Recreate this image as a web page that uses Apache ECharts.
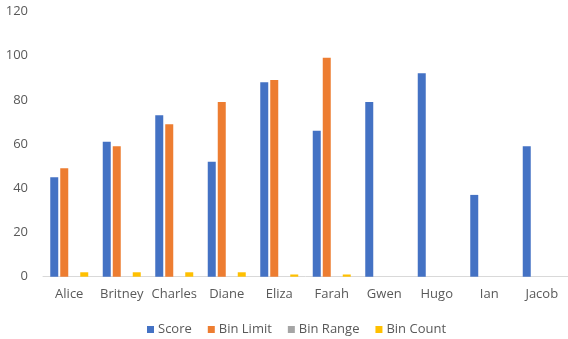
<!DOCTYPE html>
<html>
<head>
<meta charset="utf-8">
<style>
  html, body { margin: 0; padding: 0; background: #ffffff; }
  #chart { width: 568px; height: 339px; }
</style>
<script src="https://cdn.jsdelivr.net/npm/echarts@6/dist/echarts.min.js"></script>
</head>
<body>
<div id="chart"></div>
<script>
// Student scores with histogram bins
const names = ['Alice', 'Britney', 'Charles', 'Diane', 'Eliza', 'Farah', 'Gwen', 'Hugo', 'Ian', 'Jacob'];
const score = [45, 61, 73, 52, 88, 66, 79, 92, 37, 59];
const binLimit = [49, 59, 69, 79, 89, 99, null, null, null, null];
const binRange = [0, 0, 0, 0, 0, 0, null, null, null, null];
const binCount = [2, 2, 2, 2, 1, 1, null, null, null, null];
const yTicks = { min: 0, max: 120, interval: 20 };

const textColor = '#595959';
const font = 'Open Sans';

const chart = echarts.init(document.getElementById('chart'), null, { renderer: 'canvas' });

function barSeries(name, data, color) {
  return {
    name: name,
    type: 'bar',
    data: data,
    barWidth: 8,
    barGap: '25%',
    itemStyle: { color: color },
    emphasis: { disabled: true }
  };
}

chart.setOption({
  animation: false,
  textStyle: { fontFamily: font },
  grid: { left: 43, top: 11.4, width: 535, height: 265.3, containLabel: false },
  legend: {
    top: 323,
    left: 147,
    padding: 0,
    itemWidth: 7,
    itemHeight: 7,
    itemGap: 16,
    icon: 'rect',
    textStyle: { color: textColor, fontSize: 13, fontFamily: font, padding: [0, 0, 0, -1] },
    data: ['Score', 'Bin Limit', 'Bin Range', 'Bin Count']
  },
  xAxis: {
    type: 'category',
    data: names,
    axisLine: { lineStyle: { color: '#d9d9d9', width: 1 } },
    axisTick: { show: false },
    axisLabel: { color: textColor, fontSize: 13, margin: 11, interval: 0, fontFamily: font }
  },
  yAxis: {
    type: 'value',
    min: yTicks.min,
    max: yTicks.max,
    interval: yTicks.interval,
    axisLine: { show: false },
    axisTick: { show: false },
    splitLine: { show: false },
    axisLabel: { color: textColor, fontSize: 13, margin: 15, fontFamily: font }
  },
  series: [
    barSeries('Score', score, '#4472C4'),
    barSeries('Bin Limit', binLimit, '#ED7D31'),
    barSeries('Bin Range', binRange, '#A5A5A5'),
    barSeries('Bin Count', binCount, '#FFC000')
  ]
});
</script>
</body>
</html>
